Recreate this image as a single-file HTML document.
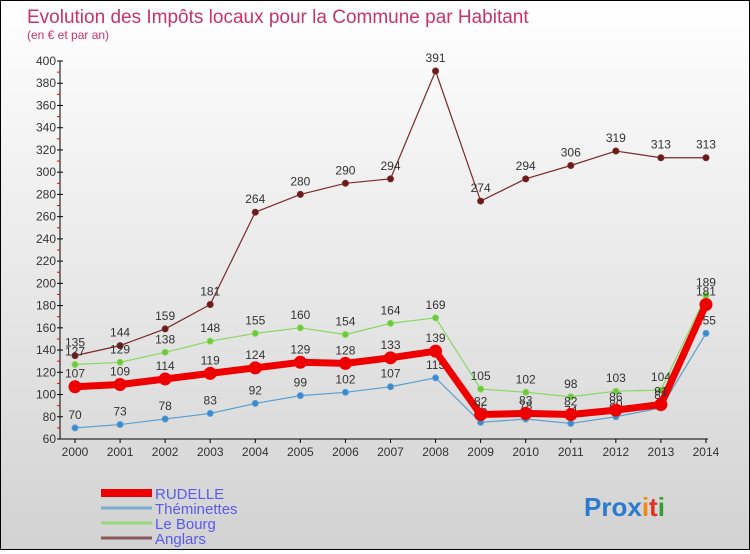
<!DOCTYPE html>
<html><head><meta charset="utf-8"><style>
body{margin:0;width:750px;height:550px;overflow:hidden;font-family:"Liberation Sans",sans-serif}
#wrap{position:relative;width:748px;height:548px;border:1px solid #000;background:linear-gradient(#ffffff,#d2d2d2)}
</style></head><body>
<div id="wrap">
<svg id="c" width="748" height="548"></svg>
</div>
<script>
const years=[2000,2001,2002,2003,2004,2005,2006,2007,2008,2009,2010,2011,2012,2013,2014];
const yTicks=[60,80,100,120,140,160,180,200,220,240,260,280,300,320,340,360,380,400];
const rudelle=[107,109,114,119,124,129,128,133,139,82,83,82,86,91,181];
const theminettes=[70,73,78,83,92,99,102,107,115,75,78,74,80,88,155];
const leBourg=[127,129,138,148,155,160,154,164,169,105,102,98,103,104,189];
const anglars=[135,144,159,181,264,280,290,294,391,274,294,306,319,313,313];
const NS="http://www.w3.org/2000/svg";
const svg=document.getElementById('c');
function X(i){return 74+i*45.07;}
function Y(v){return 438-(v-60)*(378/340);}
function el(t,a,p){const e=document.createElementNS(NS,t);for(const k in a)e.setAttribute(k,a[k]);(p||svg).appendChild(e);return e;}
function txt(x,y,s,a){const e=el('text',Object.assign({x:x,y:y},a));e.textContent=s;return e;}
// title
let t=txt(26,22,'Evolution des Impôts locaux pour la Commune par Habitant',{'font-size':19,fill:'#c8336a'});

t=txt(26,38,'(en € et par an)',{'font-size':12,fill:'#c8336a'});

// axes
let ax=el('line',{x1:59,y1:Y(400),x2:59,y2:Y(60),stroke:'#000'});

ax=el('line',{x1:59,y1:Y(60),x2:X(14)+2,y2:Y(60),stroke:'#000'});

yTicks.forEach((v,i)=>{
  el('line',{x1:56,y1:Y(v),x2:62,y2:Y(v),stroke:'#000'});
  if(i<yTicks.length-1)el('line',{x1:56,y1:Y(v+10),x2:59,y2:Y(v+10),stroke:'#e00'});
  const l=txt(55,Y(v)+4,String(v),{'font-size':12,fill:'#333','text-anchor':'end'});
  
});
years.forEach((y,i)=>{
  el('line',{x1:X(i),y1:Y(60),x2:X(i),y2:Y(60)+4,stroke:'#000'});
  const l=txt(X(i),Y(60)+17,String(y),{'font-size':12,fill:'#333','text-anchor':'middle'});
  
});
function series(data,color,dot,w,r,name){
  const g=el('g',{});
  
  const pl=el('polyline',{points:data.map((v,i)=>X(i)+','+Y(v)).join(' '),fill:'none',stroke:color,'stroke-width':w,'stroke-linejoin':'round'},g);
  
  data.forEach((v,i)=>{
    const c=el('circle',{cx:X(i),cy:Y(v),r:r,fill:dot,stroke:color,'stroke-width':1},g);
    
    const l=txt(X(i),Y(v)-9,String(v),{'font-size':12,fill:'#333','text-anchor':'middle'},g);
    
  });
}
series(anglars,'#7a2a2a','#6a1a1a',1.2,3,'anglars');
series(leBourg,'#88d860','#6cc838',1.2,3,'le-bourg');
series(theminettes,'#5b9fd0','#3a8ad0',1.2,3,'theminettes');
series(rudelle,'#ee0000','#ee0000',7,6,'rudelle');
// legend
const leg=[['RUDELLE','#ee0000',8],['Théminettes','#7aaed0',3],['Le Bourg','#98d878',3],['Anglars','#8a5a5a',3]];
leg.forEach((l,i)=>{
  const y=492+i*15;
  const g=el('g',{});
  
  el('line',{x1:100,y1:y,x2:151,y2:y,stroke:l[1],'stroke-width':l[2]},g);
  txt(154,y+6,l[0],{'font-size':15,fill:'#5a5aee'},g);
});
// logo
const lg=el('text',{x:583,y:515,'font-size':26,'font-weight':'bold'});

[['Pro','#2a7ad0'],['x','#2a7ad0'],['i','#f08a10'],['t','#e03020'],['i','#30a030']].forEach(p=>{
  const s=document.createElementNS(NS,'tspan');s.setAttribute('fill',p[1]);s.textContent=p[0];lg.appendChild(s);
});
</script>
</body></html>
